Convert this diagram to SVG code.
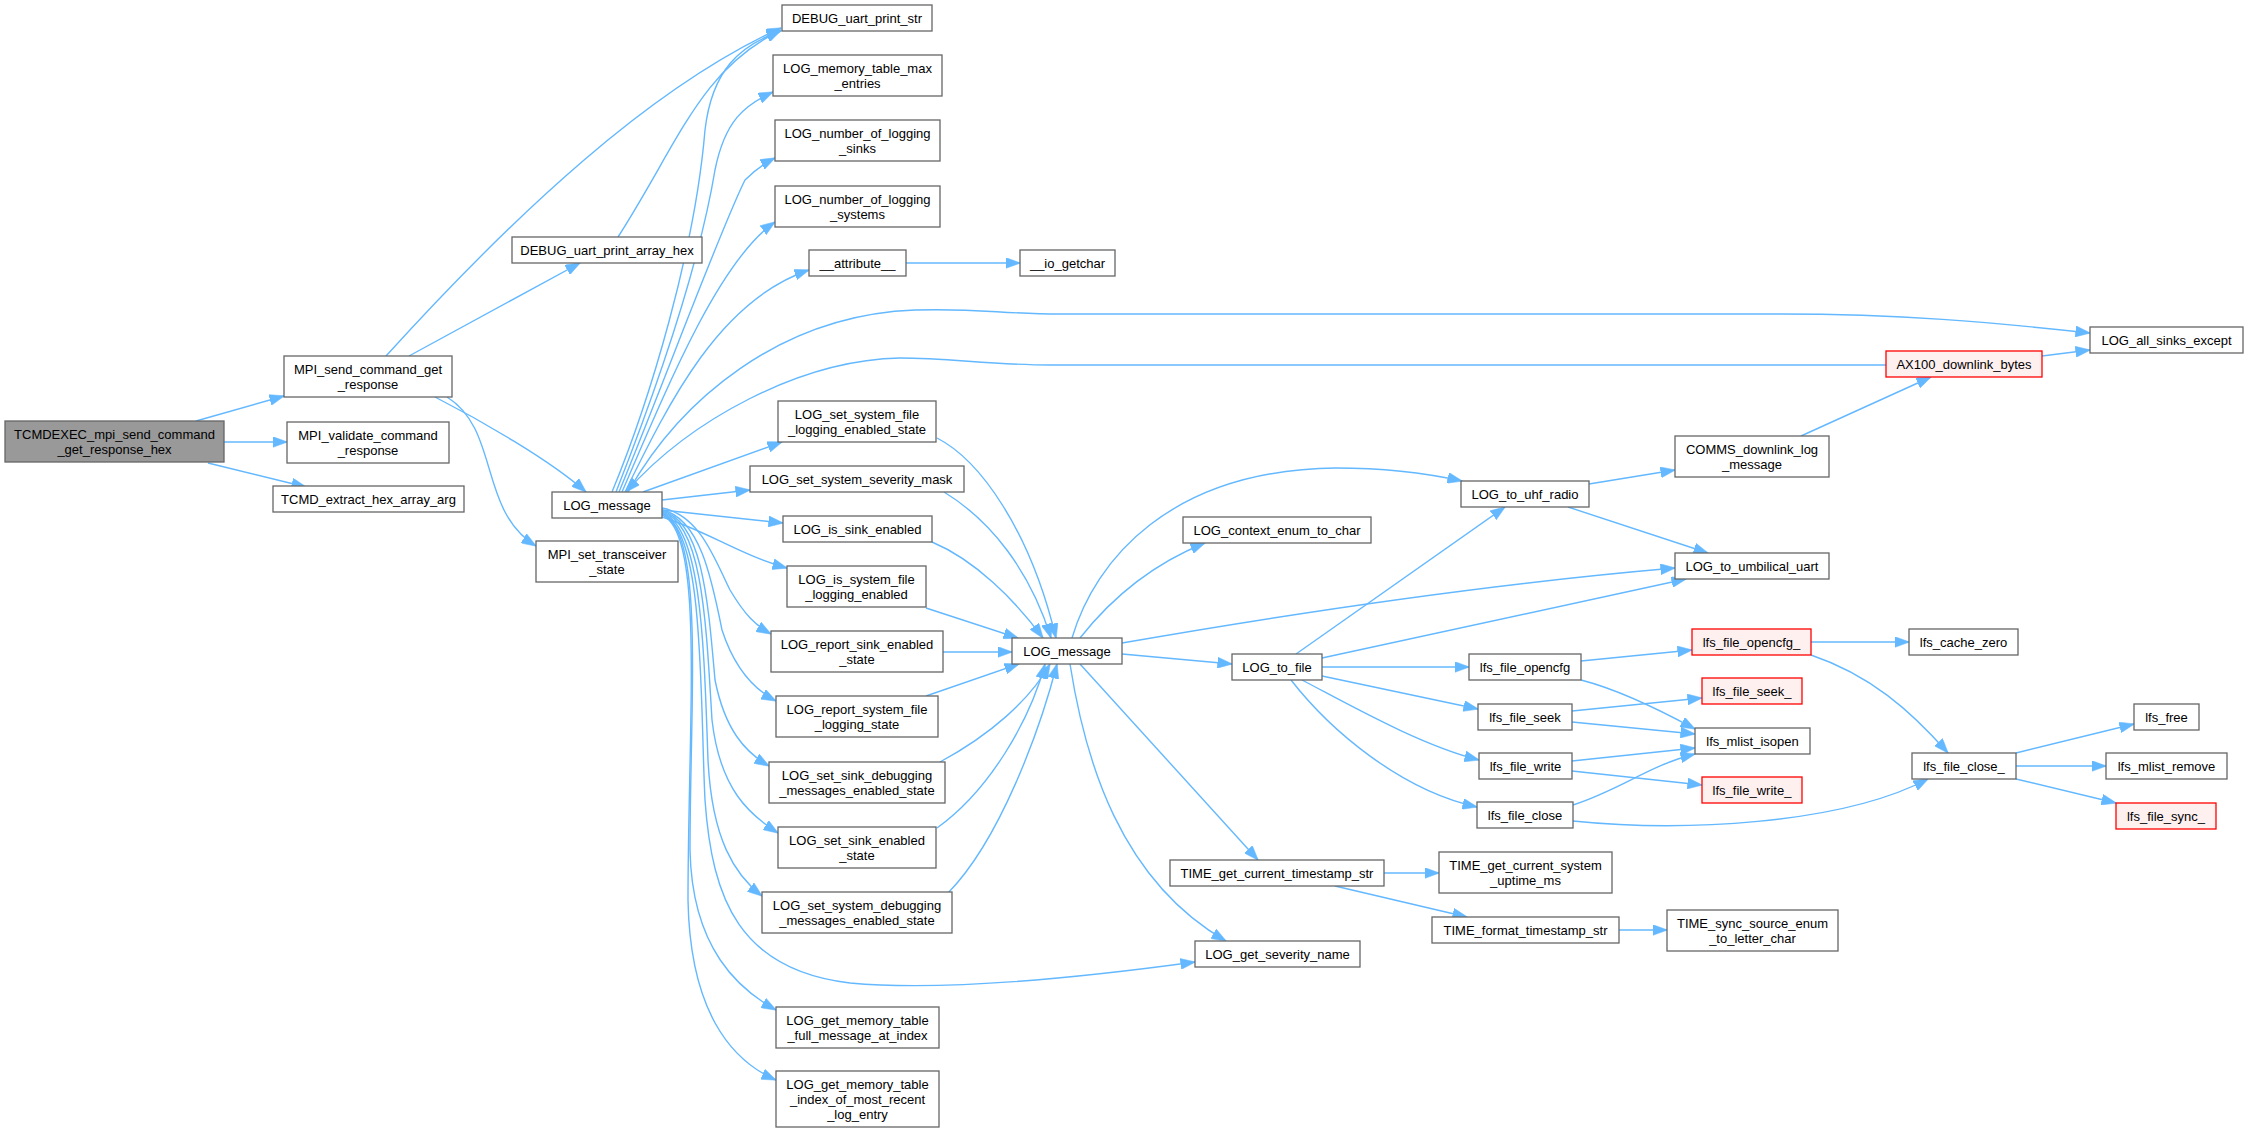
<svg xmlns="http://www.w3.org/2000/svg" width="2248" height="1133" viewBox="0 0 2248 1133">
<style>
.n rect{fill:#ffffff;stroke:#666666;stroke-width:1.3}
.root rect{fill:#999999;stroke:#666666;stroke-width:1.3}
.red rect{fill:#FFF0F0;stroke:#FF0000;stroke-width:1.3}
text{font-family:"Liberation Sans",Arial,Helvetica,sans-serif;font-size:13px;fill:#000000;text-anchor:middle}
#edges path{fill:none;stroke:#63B8FF;stroke-width:1.4;marker-end:url(#ah)}
</style>
<defs>
<marker id="ah" markerUnits="userSpaceOnUse" markerWidth="15" markerHeight="11" viewBox="0 0 15 11" refX="14.5" refY="5.5" orient="auto">
<path d="M0,0 L15,5.5 L0,11 z" fill="#63B8FF" stroke="#63B8FF" stroke-width="0.5"/>
</marker>
</defs>
<rect width="2248" height="1133" fill="#ffffff"/>
<g id="edges">
<path d="M196,421 L284,396"/>
<path d="M224,442 L287,442"/>
<path d="M208,463 L306,487"/>
<path d="M386,356 C516,213 651,87 781,28"/>
<path d="M409,356 L580,263"/>
<path d="M435,397 C480,420 550,460 586,492"/>
<path d="M447,397 C500,430 478,510 536,546"/>
<path d="M618,237 C680,140 700,70 781,30"/>
<path d="M612,492 C650,400 695,250 705,130 C712,70 740,45 781,31"/>
<path d="M616,492 C660,380 700,260 715,170 C725,120 745,105 773,92"/>
<path d="M619,492 C665,380 720,230 745,180 C755,170 765,163 775,158"/>
<path d="M622,492 C670,380 720,260 775,222"/>
<path d="M625,492 C670,400 720,300 809,270"/>
<path d="M628,492 C680,400 780,315 915,310 C980,308 1000,314 1060,314 L1780,314 C1900,314 1990,322 2090,333"/>
<path d="M1886,365 L1050,365 C990,365 950,358 900,358 C800,360 690,420 626,492"/>
<path d="M643,492 L782,442"/>
<path d="M662,500 L750,490"/>
<path d="M662,510 L783,523"/>
<path d="M662,517 C705,530 740,555 787,568"/>
<path d="M662,508 C700,515 715,560 730,590 C745,615 755,625 771,634"/>
<path d="M662,510 C700,518 712,580 722,630 C735,670 755,690 776,701"/>
<path d="M662,511 C702,520 708,600 715,680 C725,730 745,752 769,766"/>
<path d="M662,512 C702,522 706,620 712,720 C720,790 750,815 778,833"/>
<path d="M662,513 C702,525 704,650 708,760 C712,840 735,875 762,896"/>
<path d="M662,514 C705,528 700,700 705,800 C712,900 740,970 850,983 C950,992 1100,975 1195,962"/>
<path d="M662,514 C705,530 690,700 690,850 C692,950 740,990 776,1010"/>
<path d="M662,515 C705,532 688,720 688,900 C690,1010 730,1060 776,1080"/>
<path d="M906,263 L1020,263"/>
<path d="M937,438 C980,460 1030,530 1056,638"/>
<path d="M944,492 C990,520 1030,570 1051,638"/>
<path d="M932,542 C975,560 1015,600 1043,638"/>
<path d="M926,608 L1018,638"/>
<path d="M943,652 L1012,652"/>
<path d="M926,696 L1019,664"/>
<path d="M940,762 C990,735 1030,700 1050,664"/>
<path d="M937,828 C990,790 1030,720 1045,664"/>
<path d="M948,893 C1000,840 1040,730 1057,664"/>
<path d="M1072,638 C1095,560 1170,470 1336,468 C1390,468 1430,474 1462,481"/>
<path d="M1080,638 C1110,600 1150,565 1205,543"/>
<path d="M1122,643 C1300,612 1500,583 1675,568"/>
<path d="M1122,654 L1232,664"/>
<path d="M1080,664 L1258,860"/>
<path d="M1070,664 C1085,760 1120,880 1226,941"/>
<path d="M1296,654 L1505,507"/>
<path d="M1322,658 L1686,579"/>
<path d="M1322,667 L1469,667"/>
<path d="M1322,676 L1478,709"/>
<path d="M1302,680 C1350,705 1420,745 1479,760"/>
<path d="M1291,680 C1330,730 1400,790 1477,807"/>
<path d="M1589,484 L1675,470"/>
<path d="M1568,507 L1708,553"/>
<path d="M1801,436 L1931,377"/>
<path d="M2042,356 L2090,350"/>
<path d="M1581,661 L1692,650"/>
<path d="M1581,680 C1620,690 1660,710 1695,729"/>
<path d="M1572,711 L1702,698"/>
<path d="M1572,722 L1695,734"/>
<path d="M1572,761 L1695,748"/>
<path d="M1572,771 L1702,785"/>
<path d="M1573,805 C1620,790 1650,765 1695,754"/>
<path d="M1573,821 C1680,832 1840,825 1928,779"/>
<path d="M1811,642 L1909,642"/>
<path d="M1811,655 C1870,675 1910,710 1948,753"/>
<path d="M2016,753 L2134,724"/>
<path d="M2016,766 L2106,766"/>
<path d="M2016,779 L2116,803"/>
<path d="M1384,873 L1439,873"/>
<path d="M1335,886 L1467,917"/>
<path d="M1619,930 L1667,930"/>
</g>
<g id="TCMDEXEC_mpi_send_command_get_response_hex" class="root"><rect x="5" y="421" width="219" height="41"/><text x="114.5" y="439">TCMDEXEC_mpi_send_command</text><text x="114.5" y="454">_get_response_hex</text></g>
<g id="MPI_send_command_get_response" class="n"><rect x="284" y="356" width="168" height="41"/><text x="368" y="374">MPI_send_command_get</text><text x="368" y="389">_response</text></g>
<g id="MPI_validate_command_response" class="n"><rect x="287" y="422" width="162" height="41"/><text x="368" y="440">MPI_validate_command</text><text x="368" y="455">_response</text></g>
<g id="TCMD_extract_hex_array_arg" class="n"><rect x="273" y="486" width="191" height="26"/><text x="368.5" y="503.5">TCMD_extract_hex_array_arg</text></g>
<g id="DEBUG_uart_print_array_hex" class="n"><rect x="512" y="237" width="190" height="26"/><text x="607" y="254.5">DEBUG_uart_print_array_hex</text></g>
<g id="LOG_message_1" class="n"><rect x="552" y="492" width="110" height="26"/><text x="607" y="509.5">LOG_message</text></g>
<g id="MPI_set_transceiver_state" class="n"><rect x="536" y="541" width="142" height="41"/><text x="607" y="559">MPI_set_transceiver</text><text x="607" y="574">_state</text></g>
<g id="DEBUG_uart_print_str" class="n"><rect x="782" y="5" width="150" height="26"/><text x="857" y="22.5">DEBUG_uart_print_str</text></g>
<g id="LOG_memory_table_max_entries" class="n"><rect x="773" y="55" width="169" height="41"/><text x="857.5" y="73">LOG_memory_table_max</text><text x="857.5" y="88">_entries</text></g>
<g id="LOG_number_of_logging_sinks" class="n"><rect x="775" y="120" width="165" height="41"/><text x="857.5" y="138">LOG_number_of_logging</text><text x="857.5" y="153">_sinks</text></g>
<g id="LOG_number_of_logging_systems" class="n"><rect x="775" y="186" width="165" height="41"/><text x="857.5" y="204">LOG_number_of_logging</text><text x="857.5" y="219">_systems</text></g>
<g id="__attribute__" class="n"><rect x="809" y="250" width="97" height="26"/><text x="857.5" y="267.5">__attribute__</text></g>
<g id="LOG_set_system_file_logging_enabled_state" class="n"><rect x="778" y="401" width="158" height="41"/><text x="857" y="419">LOG_set_system_file</text><text x="857" y="434">_logging_enabled_state</text></g>
<g id="LOG_set_system_severity_mask" class="n"><rect x="750" y="466" width="214" height="26"/><text x="857" y="483.5">LOG_set_system_severity_mask</text></g>
<g id="LOG_is_sink_enabled" class="n"><rect x="783" y="516" width="149" height="26"/><text x="857.5" y="533.5">LOG_is_sink_enabled</text></g>
<g id="LOG_is_system_file_logging_enabled" class="n"><rect x="787" y="566" width="139" height="41"/><text x="856.5" y="584">LOG_is_system_file</text><text x="856.5" y="599">_logging_enabled</text></g>
<g id="LOG_report_sink_enabled_state" class="n"><rect x="771" y="631" width="172" height="41"/><text x="857" y="649">LOG_report_sink_enabled</text><text x="857" y="664">_state</text></g>
<g id="LOG_report_system_file_logging_state" class="n"><rect x="776" y="696" width="162" height="41"/><text x="857" y="714">LOG_report_system_file</text><text x="857" y="729">_logging_state</text></g>
<g id="LOG_set_sink_debugging_messages_enabled_state" class="n"><rect x="769" y="762" width="176" height="41"/><text x="857" y="780">LOG_set_sink_debugging</text><text x="857" y="795">_messages_enabled_state</text></g>
<g id="LOG_set_sink_enabled_state" class="n"><rect x="778" y="827" width="158" height="41"/><text x="857" y="845">LOG_set_sink_enabled</text><text x="857" y="860">_state</text></g>
<g id="LOG_set_system_debugging_messages_enabled_state" class="n"><rect x="762" y="892" width="190" height="41"/><text x="857" y="910">LOG_set_system_debugging</text><text x="857" y="925">_messages_enabled_state</text></g>
<g id="LOG_get_memory_table_full_message_at_index" class="n"><rect x="776" y="1007" width="163" height="41"/><text x="857.5" y="1025">LOG_get_memory_table</text><text x="857.5" y="1040">_full_message_at_index</text></g>
<g id="LOG_get_memory_table_index_of_most_recent_log_entry" class="n"><rect x="776" y="1071" width="163" height="56"/><text x="857.5" y="1088.5">LOG_get_memory_table</text><text x="857.5" y="1103.5">_index_of_most_recent</text><text x="857.5" y="1118.5">_log_entry</text></g>
<g id="__io_getchar" class="n"><rect x="1020" y="250" width="95" height="26"/><text x="1067.5" y="267.5">__io_getchar</text></g>
<g id="LOG_message_2" class="n"><rect x="1012" y="638" width="110" height="26"/><text x="1067" y="655.5">LOG_message</text></g>
<g id="LOG_context_enum_to_char" class="n"><rect x="1183" y="517" width="188" height="26"/><text x="1277" y="534.5">LOG_context_enum_to_char</text></g>
<g id="LOG_to_file" class="n"><rect x="1232" y="654" width="90" height="26"/><text x="1277" y="671.5">LOG_to_file</text></g>
<g id="TIME_get_current_timestamp_str" class="n"><rect x="1170" y="860" width="214" height="26"/><text x="1277" y="877.5">TIME_get_current_timestamp_str</text></g>
<g id="LOG_get_severity_name" class="n"><rect x="1195" y="941" width="165" height="26"/><text x="1277.5" y="958.5">LOG_get_severity_name</text></g>
<g id="LOG_to_uhf_radio" class="n"><rect x="1461" y="481" width="128" height="26"/><text x="1525" y="498.5">LOG_to_uhf_radio</text></g>
<g id="lfs_file_opencfg" class="n"><rect x="1469" y="654" width="112" height="26"/><text x="1525" y="671.5">lfs_file_opencfg</text></g>
<g id="lfs_file_seek" class="n"><rect x="1478" y="704" width="94" height="26"/><text x="1525" y="721.5">lfs_file_seek</text></g>
<g id="lfs_file_write" class="n"><rect x="1479" y="753" width="93" height="26"/><text x="1525.5" y="770.5">lfs_file_write</text></g>
<g id="lfs_file_close" class="n"><rect x="1477" y="802" width="96" height="26"/><text x="1525" y="819.5">lfs_file_close</text></g>
<g id="TIME_get_current_system_uptime_ms" class="n"><rect x="1439" y="852" width="173" height="41"/><text x="1525.5" y="870">TIME_get_current_system</text><text x="1525.5" y="885">_uptime_ms</text></g>
<g id="TIME_format_timestamp_str" class="n"><rect x="1432" y="917" width="187" height="26"/><text x="1525.5" y="934.5">TIME_format_timestamp_str</text></g>
<g id="COMMS_downlink_log_message" class="n"><rect x="1675" y="436" width="154" height="41"/><text x="1752" y="454">COMMS_downlink_log</text><text x="1752" y="469">_message</text></g>
<g id="LOG_to_umbilical_uart" class="n"><rect x="1675" y="553" width="154" height="26"/><text x="1752" y="570.5">LOG_to_umbilical_uart</text></g>
<g id="lfs_file_opencfg_" class="red"><rect x="1692" y="629" width="119" height="26"/><text x="1751.5" y="646.5">lfs_file_opencfg_</text></g>
<g id="lfs_file_seek_" class="red"><rect x="1702" y="678" width="100" height="26"/><text x="1752" y="695.5">lfs_file_seek_</text></g>
<g id="lfs_mlist_isopen" class="n"><rect x="1695" y="728" width="115" height="26"/><text x="1752.5" y="745.5">lfs_mlist_isopen</text></g>
<g id="lfs_file_write_" class="red"><rect x="1702" y="777" width="100" height="26"/><text x="1752" y="794.5">lfs_file_write_</text></g>
<g id="TIME_sync_source_enum_to_letter_char" class="n"><rect x="1667" y="910" width="171" height="41"/><text x="1752.5" y="928">TIME_sync_source_enum</text><text x="1752.5" y="943">_to_letter_char</text></g>
<g id="AX100_downlink_bytes" class="red"><rect x="1886" y="351" width="156" height="26"/><text x="1964" y="368.5">AX100_downlink_bytes</text></g>
<g id="lfs_cache_zero" class="n"><rect x="1909" y="629" width="109" height="26"/><text x="1963.5" y="646.5">lfs_cache_zero</text></g>
<g id="lfs_file_close_" class="n"><rect x="1912" y="753" width="104" height="26"/><text x="1964" y="770.5">lfs_file_close_</text></g>
<g id="LOG_all_sinks_except" class="n"><rect x="2090" y="327" width="153" height="26"/><text x="2166.5" y="344.5">LOG_all_sinks_except</text></g>
<g id="lfs_free" class="n"><rect x="2134" y="704" width="65" height="26"/><text x="2166.5" y="721.5">lfs_free</text></g>
<g id="lfs_mlist_remove" class="n"><rect x="2106" y="753" width="121" height="26"/><text x="2166.5" y="770.5">lfs_mlist_remove</text></g>
<g id="lfs_file_sync_" class="red"><rect x="2116" y="803" width="100" height="26"/><text x="2166" y="820.5">lfs_file_sync_</text></g>
</svg>
